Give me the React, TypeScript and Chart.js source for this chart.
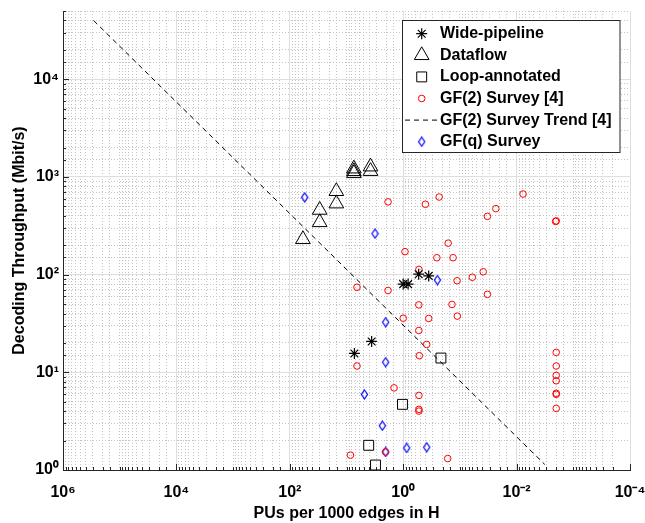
import React, { useEffect, useRef } from 'react';
import { Chart, registerables } from 'chart.js';
import { drawPoint } from 'chart.js/helpers';

Chart.register(...registerables);

// ---- Data ----
const widePipelineX = [0.533, 0.355, 1.0, 0.82, 3.6, 7.26];
const widePipelineY = [101, 97, 80, 80, 20.7, 15.6];

const dataflowX = [58.7, 29.7, 29.7, 15.1, 15.1, 7.41, 7.41, 7.41, 3.77, 3.77];
const dataflowY = [230, 459, 343, 714, 533, 1216, 1143, 1089, 1274, 1146];

const loopX = [0.216, 1.03, 4.06, 3.08];
const loopY = [14.0, 4.7, 1.79, 1.125];

const gf2X = [
  1.85, 0.406, 0.232, 0.0077, 0.0327, 0.0232, 0.00205, 0.002, 0.161, 0.93,
  0.255, 0.132, 0.528, 0.0388, 0.0604, 0.112, 6.53, 1.85, 0.0327, 0.53,
  0.138, 0.111, 1.0, 0.355, 0.53, 0.385, 0.002, 0.52, 6.53, 0.002,
  0.002, 0.002, 1.45, 0.002, 0.002, 0.528, 0.528, 0.528, 0.002, 2.05,
  8.53, 0.164,
];
const gf2Y = [
  556, 525, 623, 669, 395, 474, 350, 355, 210, 172,
  149, 149, 113, 107, 94, 86.6, 74.3, 68.8, 62.8, 49,
  49.5, 37.6, 35.8, 35.6, 26.8, 19.3, 16.0, 14.8, 11.6, 11.6,
  9.3, 8.19, 6.93, 6.1, 5.95, 5.8, 4.18, 4.01, 4.27, 1.53,
  1.42, 1.31,
];

const trendX = [2.88e5, 3.19e-3];
const trendY = [3.99e4, 1.14];

const gfqX = [54.6, 3.14, 0.249, 2.04, 2.04, 4.83, 2.33, 2.04, 0.867, 0.385];
const gfqY = [618, 263, 88, 32.6, 12.7, 5.94, 2.84, 1.53, 1.68, 1.71];

const seriesNames = [
  'Wide-pipeline',
  'Dataflow',
  'Loop-annotated',
  'GF(2) Survey [4]',
  'GF(2) Survey Trend [4]',
  'GF(q) Survey',
];

const xMin = 1e-4;
const xMax = 1e6;
const yMin = 1;
const yMax = 5e4;
const xLabelExps = [6, 4, 2, 0, -2, -4];

const xTitle = 'PUs per 1000 edges in H';
const yTitle = 'Decoding Throughput (Mbit/s)';

// ---- helpers ----
const FONT_FAMILY = '"Liberation Sans", Arial, Helvetica, sans-serif';
const AXIS_COLOR = '#262626';
const SUP: Record<string, string> = {
  '0': '\u2070', '1': '\u00b9', '2': '\u00b2', '3': '\u00b3', '4': '\u2074',
  '5': '\u2075', '6': '\u2076', '7': '\u2077', '8': '\u2078', '9': '\u2079', '-': '\u207b',
};
const expOf = (v: number) => Math.round(Math.log10(v));
const isPow10 = (v: number) => v > 0 && Math.abs(Math.log10(v) - Math.round(Math.log10(v))) < 1e-6;
const powLabel = (e: number) => '10' + String(e).split('').map((c) => SUP[c]).join('');
const isXMajor = (v: number) => isPow10(v) && xLabelExps.includes(expOf(v));

const toPts = (xs: number[], ys: number[]) => xs.map((x, i) => ({ x, y: ys[i] }));

function makeDiamond(): HTMLCanvasElement {
  const c = document.createElement('canvas');
  c.width = 9;
  c.height = 11;
  const g = c.getContext('2d')!;
  g.strokeStyle = '#0000ff';
  g.lineWidth = 1.2;
  g.beginPath();
  g.moveTo(4.5, 1);
  g.lineTo(7.6, 5.5);
  g.lineTo(4.5, 10);
  g.lineTo(1.4, 5.5);
  g.closePath();
  g.stroke();
  return c;
}

export default function App() {
  const ref = useRef<HTMLCanvasElement | null>(null);

  useEffect(() => {
    if (!ref.current) return;
    const diamond = makeDiamond();

    const inwardTicks = {
      id: 'inwardTicks',
      beforeDatasetsDraw(chart: any) {
        const { ctx, chartArea } = chart;
        const xs = chart.scales.x;
        const ys = chart.scales.y;
        ctx.save();
        ctx.strokeStyle = AXIS_COLOR;
        ctx.lineWidth = 1;
        ctx.beginPath();
        xs.ticks.forEach((t: any) => {
          const px = Math.round(xs.getPixelForValue(t.value)) + 0.5;
          const len = isXMajor(t.value) ? 6 : 3;
          ctx.moveTo(px, chartArea.bottom);
          ctx.lineTo(px, chartArea.bottom - len);
        });
        ys.ticks.forEach((t: any) => {
          const py = Math.round(ys.getPixelForValue(t.value)) + 0.5;
          const len = isPow10(t.value) ? 6 : 3;
          ctx.moveTo(chartArea.left, py);
          ctx.lineTo(chartArea.left + len, py);
        });
        ctx.stroke();
        ctx.restore();
      },
    };

    const legendBox = {
      id: 'legendBox',
      afterDraw(chart: any) {
        const { ctx } = chart;
        const left = 402.5, top = 20.5, w = 217.5, h = 132;
        ctx.save();
        ctx.fillStyle = '#ffffff';
        ctx.fillRect(left, top, w, h);
        ctx.strokeStyle = AXIS_COLOR;
        ctx.lineWidth = 1;
        ctx.strokeRect(left, top, w, h);
        const symX = 421.7;
        const textX = 440;
        const rowY0 = 33.7;
        const rowH = 21.6;
        ctx.font = `bold 16px ${FONT_FAMILY}`;
        ctx.textBaseline = 'middle';
        ctx.textAlign = 'left';
        chart.data.datasets.forEach((ds: any, i: number) => {
          const y = rowY0 + i * rowH;
          ctx.save();
          if (ds.showLine) {
            ctx.strokeStyle = ds.borderColor;
            ctx.lineWidth = 1;
            ctx.setLineDash(ds.borderDash || []);
            ctx.beginPath();
            ctx.moveTo(405, y);
            ctx.lineTo(437, y);
            ctx.stroke();
          } else {
            ctx.strokeStyle = ds.borderColor;
            ctx.fillStyle = 'rgba(0,0,0,0)';
            ctx.lineWidth = ds.borderWidth;
            drawPoint(ctx, {
              pointStyle: ds.pointStyle,
              rotation: 0,
              radius: ds.pointRadius,
              borderWidth: ds.borderWidth,
            } as any, symX, y);
          }
          ctx.restore();
          ctx.fillStyle = '#000000';
          ctx.fillText(ds.label, textX, y);
        });
        ctx.restore();
      },
    };

    const tickFont = { family: FONT_FAMILY, size: 16, weight: 'bold' as const };

    const chart = new Chart(ref.current, {
      type: 'scatter',
      data: {
        datasets: [
          {
            label: seriesNames[0],
            data: toPts(widePipelineX, widePipelineY),
            pointStyle: 'star',
            pointRadius: 5.5,
            borderColor: '#000000',
            backgroundColor: 'rgba(0,0,0,0)',
            borderWidth: 1.2,
          },
          {
            label: seriesNames[1],
            data: toPts(dataflowX, dataflowY),
            pointStyle: 'triangle',
            pointRadius: 8.5,
            borderColor: '#000000',
            backgroundColor: 'rgba(0,0,0,0)',
            borderWidth: 1,
          },
          {
            label: seriesNames[2],
            data: toPts(loopX, loopY),
            pointStyle: 'rect',
            pointRadius: 7,
            borderColor: '#000000',
            backgroundColor: 'rgba(0,0,0,0)',
            borderWidth: 1,
          },
          {
            label: seriesNames[3],
            data: toPts(gf2X, gf2Y),
            pointStyle: 'circle',
            pointRadius: 3.3,
            borderColor: '#ff0000',
            backgroundColor: 'rgba(0,0,0,0)',
            borderWidth: 1,
          },
          {
            label: seriesNames[4],
            data: toPts(trendX, trendY),
            showLine: true,
            borderColor: '#000000',
            borderWidth: 1,
            borderDash: [5, 4],
            pointRadius: 0,
            backgroundColor: 'rgba(0,0,0,0)',
          },
          {
            label: seriesNames[5],
            data: toPts(gfqX, gfqY),
            pointStyle: diamond as any,
            pointRadius: 4,
            borderColor: '#0000ff',
            backgroundColor: 'rgba(0,0,0,0)',
            borderWidth: 1,
          },
        ],
      },
      options: {
        responsive: false,
        animation: false,
        layout: { padding: { top: 11, right: 15, left: 0, bottom: 0 } },
        plugins: {
          legend: { display: false },
          tooltip: { enabled: false },
        },
        scales: {
          x: {
            type: 'logarithmic',
            position: 'bottom',
            min: xMin,
            max: xMax,
            reverse: true,
            weight: 1,
            afterFit: (s: any) => {
              s.height = 53;
              s.paddingLeft = 0;
              s.paddingRight = 0;
            },
            border: { display: true, color: AXIS_COLOR, width: 1 },
            grid: {
              drawTicks: false,
              lineWidth: 1,
              color: (c: any) => (c.tick && isXMajor(c.tick.value) ? '#dedede' : 'rgba(0,0,0,0)'),
            },
            ticks: {
              autoSkip: false,
              maxRotation: 0,
              minRotation: 0,
              padding: 13,
              color: '#000000',
              font: tickFont,
              callback: (v: any) => (isXMajor(Number(v)) ? powLabel(expOf(Number(v))) : ''),
            },
            title: {
              display: true,
              text: xTitle,
              color: '#000000',
              font: tickFont,
              padding: { top: 0, bottom: 0 },
            },
          },
          xMinor: {
            type: 'logarithmic',
            position: 'bottom',
            min: xMin,
            max: xMax,
            reverse: true,
            weight: 2,
            afterFit: (s: any) => {
              s.height = 0;
              s.paddingLeft = 0;
              s.paddingRight = 0;
            },
            border: { display: false, dash: [1, 2] },
            grid: {
              drawTicks: false,
              lineWidth: 1,
              color: (c: any) => (c.tick && !isXMajor(c.tick.value) ? '#c4c4c4' : 'rgba(0,0,0,0)'),
            },
            ticks: { display: false, autoSkip: false },
          },
          y: {
            type: 'logarithmic',
            position: 'left',
            min: yMin,
            max: yMax,
            weight: 1,
            afterFit: (s: any) => {
              s.width = 63;
              s.paddingTop = 0;
              s.paddingBottom = 0;
            },
            border: { display: true, color: AXIS_COLOR, width: 1 },
            grid: {
              drawTicks: false,
              lineWidth: 1,
              color: (c: any) => (c.tick && isPow10(c.tick.value) ? '#dedede' : 'rgba(0,0,0,0)'),
            },
            ticks: {
              autoSkip: false,
              padding: 4,
              color: '#000000',
              font: tickFont,
              callback: (v: any) => (isPow10(Number(v)) ? powLabel(expOf(Number(v))) : ''),
            },
            title: {
              display: true,
              text: yTitle,
              color: '#000000',
              font: tickFont,
              padding: { top: 10, bottom: 0 },
            },
          },
          yMinor: {
            type: 'logarithmic',
            position: 'left',
            min: yMin,
            max: yMax,
            weight: 2,
            afterFit: (s: any) => {
              s.width = 0;
              s.paddingTop = 0;
              s.paddingBottom = 0;
            },
            border: { display: false, dash: [1, 2] },
            grid: {
              drawTicks: false,
              lineWidth: 1,
              color: (c: any) => (c.tick && !isPow10(c.tick.value) ? '#c4c4c4' : 'rgba(0,0,0,0)'),
            },
            ticks: { display: false, autoSkip: false },
          },
        },
      } as any,
      plugins: [inwardTicks, legendBox],
    });

    return () => chart.destroy();
  }, []);

  return (
    <div style={{ position: 'fixed', left: 0, top: 0, width: 645, height: 523, background: '#ffffff' }}>
      <canvas ref={ref} width={645} height={523} style={{ display: 'block', width: 645, height: 523 }} />
    </div>
  );
}
